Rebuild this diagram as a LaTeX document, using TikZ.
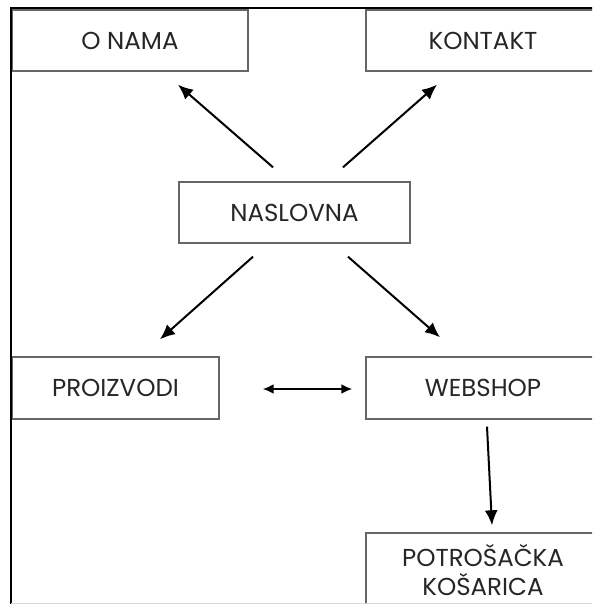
\documentclass[tikz,border=0pt]{standalone}
\usepackage{fontspec}
\setmainfont{Poppins}
\usetikzlibrary{arrows.meta}

\begin{document}
\begin{tikzpicture}
		[x=1pt, y=-1pt,
		block/.style ={rectangle, draw=black!60, line width=1.4pt, fill=white, text=black!85, align=center, inner sep=0pt, font=\fontsize{24.5}{29.5}\selectfont},
		line/.style ={draw, line width=2pt, -{Latex[length=15pt,width=13pt]}},
		both/.style ={draw, line width=2pt, {Latex[length=11pt,width=10pt]}-{Latex[length=11pt,width=10pt]}}]
		\clip (0,0) rectangle (592,604);
		\draw (130,40.5) node[block, minimum width=236pt, minimum height=61pt] (onama) {O NAMA};
		\draw (483,40.5) node[block, minimum width=234pt, minimum height=61pt] (kontakt) {KONTAKT};
		\draw (294.5,212.5) node[block, minimum width=231pt, minimum height=61pt] (naslovna) {NASLOVNA};
		\draw (115.5,388) node[block, minimum width=207pt, minimum height=62pt] (proizvodi) {PROIZVODI};
		\draw (483,388) node[block, minimum width=234pt, minimum height=62pt] (webshop) {WEBSHOP};
		\draw (483,570) node[block, minimum width=234pt, minimum height=74pt] (kosarica) {POTROŠAČKA\\KOŠARICA};
		% frame
		\draw[line width=2pt] (11,620) -- (11,8) -- (600,8);
		\draw[black!15] (11,603) -- (600,603);
		\path[line]
		([shift={(-21.5,-14)}]naslovna.north) -- ([shift={(48,13)}]onama.south);
		\path[line]
		([shift={(48.5,-14)}]naslovna.north) -- ([shift={(-46,13)}]kontakt.south);
		\path[line]
		([shift={(-41.5,13)}]naslovna.south) -- ([shift={(44.5,-17)}]proizvodi.north);
		\path[line]
		([shift={(53.5,13)}]naslovna.south) -- ([shift={(-43,-19)}]webshop.north);
		\path[both]
		([shift={(43,1)}]proizvodi.east) -- ([shift={(-13,1)}]webshop.west);
		\path[line]
		([shift={(4,7)}]webshop.south) -- ([shift={(9,-7)}]kosarica.north);

	\end{tikzpicture}
\end{document}
